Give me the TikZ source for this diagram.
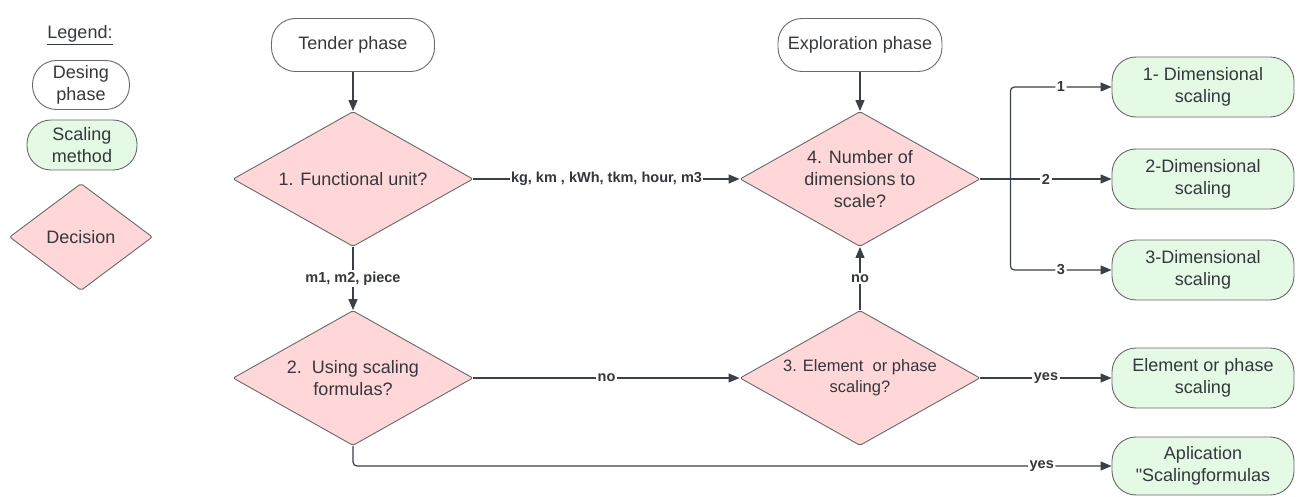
\documentclass[tikz,border=0pt]{standalone}
\usepackage{fontspec}
\setmainfont{Liberation Sans}
\newfontfamily\quotefont{Liberation Sans}[Ligatures=TeXOff]
\usepackage{tikz}
\usetikzlibrary{arrows.meta,calc,positioning,shapes.geometric}

\definecolor{decfill}{RGB}{255,215,217}
\definecolor{metfill}{RGB}{228,250,228}
\definecolor{bordgray}{RGB}{105,105,108}
\definecolor{linegray}{RGB}{58,64,72}
\definecolor{txtgray}{RGB}{52,55,60}

\begin{document}
\begin{tikzpicture}[x=1pt,y=-1pt,
    every node/.style={text=txtgray,font=\fontsize{18}{22}\selectfont},
    phase/.style={draw=bordgray,line width=0.9pt,rounded corners=24pt,
      minimum width=#1,minimum height=53pt,align=center,inner sep=0pt},
    method/.style={draw=bordgray,fill=metfill,line width=0.9pt,rounded corners=24pt,
      minimum width=182pt,minimum height=60pt,align=center,inner sep=0pt},
    decision/.style={diamond,draw=bordgray,fill=decfill,line width=0.9pt,
      rounded corners=2pt,aspect=1.77,minimum width=240pt,minimum height=135pt,
      align=center,inner sep=0pt},
    lbl/.style={fill=white,inner sep=1.5pt,text=txtgray,
      font=\fontsize{14.5}{17}\bfseries\selectfont},
    flow/.style={draw=linegray,line width=1.2pt,-{Triangle[length=11pt,width=9pt]}}]
%
  \useasboundingbox (0,0) rectangle (1301,497);
%
  % legend
  \node (legend) at (80,35) {\underline{Legend:}};
  \node [phase=97pt,minimum height=49pt] (desing) at (81,85) {Desing\\phase};
  \node [method,minimum width=110pt,minimum height=50pt] (scal) at (82,145) {Scaling\\method};
  \node [decision,minimum width=143pt,minimum height=107pt,aspect=1.34] (dec) at (81,237) {Decision};
%
  % phases and decisions
  \node [phase=163pt] (tender) at (353,45) {Tender phase};
  \node [phase=164pt] (explo) at (860,45) {Exploration phase};
  \node [decision] (funit) at (353,179) {1. Functional unit?};
  \node [decision] (ndim) at (860,179) {4. Number of\\dimensions to\\scale?};
  \node [decision] (usf) at (353,378) {2.\ \ Using scaling\\formulas?};
  \node [decision,font=\fontsize{16.5}{21}\selectfont] (elph) at (860,378) {3. Element\ \ or phase\\scaling?};
%
  % scaling methods
  \node [method] (dim1) at (1203,87) {1- Dimensional\\scaling};
  \node [method] (dim2) at (1203,179) {2-Dimensional\\scaling};
  \node [method] (dim3) at (1203,270) {3-Dimensional\\scaling};
  \node [method] (eph) at (1203,378) {Element or phase\\scaling};
  \node [method,minimum height=58pt] (apl) at (1203,466) {Aplication\\{\quotefont"}Scalingformulas};
%
  \draw [flow] (tender) -- (funit);
  \draw [flow] (explo) -- (ndim);
  \draw [flow] (funit) -- (ndim) node [lbl,midway] {kg, km , kWh, tkm, hour, m3};
  \draw [flow] (funit) -- (usf) node [lbl,midway] {m1, m2, piece};
  \draw [flow] (usf) -- (elph) node [lbl,midway] {no};
  \draw [flow] (elph) -- (ndim) node [lbl,midway] {no};
  \draw [flow] (elph) -- (eph) node [lbl,midway] {yes};
  \draw [flow,rounded corners=4pt] (usf.south) |- (apl.west) node [lbl,pos=0.954] {yes};
%
  \coordinate (split) at ($(ndim.east)+(30,0)$);
  \draw [flow] (ndim) -- (dim2) node [lbl,midway] {2};
  \draw [flow,rounded corners=4pt] (split) |- (dim1) node [lbl,pos=0.75] {1};
  \draw [flow,rounded corners=4pt] (split) |- (dim3) node [lbl,pos=0.75] {3};
%
\end{tikzpicture}
\end{document}
